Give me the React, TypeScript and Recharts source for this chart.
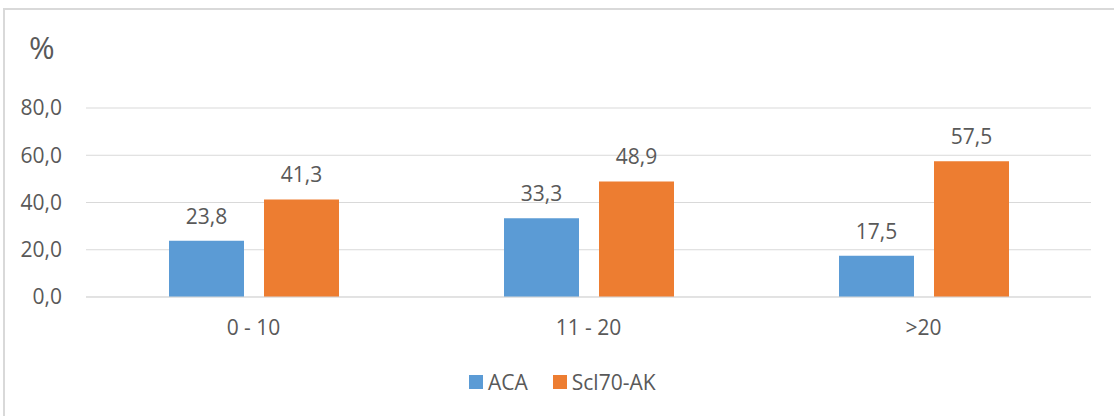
import { Bar, BarChart, CartesianGrid, LabelList, Legend, XAxis, YAxis } from 'recharts';

const categories = ['0 - 10', '11 - 20', '>20'];
const aca = [23.8, 33.3, 17.5];
const scl70 = [41.3, 48.9, 57.5];
const yTicks = [0, 20, 40, 60, 80];

const chartData = categories.map((c, i) => ({ gruppe: c, aca: aca[i], scl70: scl70[i] }));

const FONT = '"Open Sans", "Noto Sans", sans-serif';
const TEXT = '#595959';
const GRID = '#d9d9d9';
const FS = 21;

const komma = (v: number) => Number(v).toFixed(1).replace('.', ',');

const LegendBox = ({ payload }: any) => (
  <div style={{ display: 'flex', alignItems: 'center', fontFamily: FONT, fontSize: FS, color: TEXT }}>
    {(payload || []).map((p: any, i: number) => (
      <div key={p.value} style={{ display: 'flex', alignItems: 'center', marginLeft: i === 0 ? 0 : 25 }}>
        <span style={{ width: 14, height: 14, background: p.color, display: 'inline-block', marginRight: 5 }} />
        <span style={{ lineHeight: '20px' }}>{p.value}</span>
      </div>
    ))}
  </div>
);

export default function App() {
  return (
    <div style={{ position: 'absolute', left: 0, top: 0, width: 1114, height: 416, background: '#fff', fontFamily: FONT, overflow: 'hidden' }}>
      <div
        style={{
          position: 'absolute',
          left: 3,
          top: 8,
          width: 1200,
          height: 500,
          borderLeft: `2px solid ${GRID}`,
          borderTop: `2px solid ${GRID}`,
        }}
      />
      <div style={{ position: 'absolute', left: 29, top: 27, fontSize: 31, color: TEXT, lineHeight: '40px' }}>%</div>
      <BarChart
        width={1114}
        height={416}
        data={chartData}
        margin={{ top: 108, right: 23, left: 0, bottom: 89 }}
        barSize={75}
        barGap={20}
      >
        <CartesianGrid vertical={false} stroke={GRID} strokeWidth={1} />
        <XAxis
          dataKey="gruppe"
          height={30}
          axisLine={{ stroke: GRID }}
          tickLine={false}
          tickMargin={17}
          tick={{ fontSize: FS, fill: TEXT }}
        />
        <YAxis
          width={86}
          domain={[0, 80]}
          ticks={yTicks}
          axisLine={false}
          tickLine={false}
          tickMargin={18}
          tick={{ fontSize: FS, fill: TEXT }}
          tickFormatter={komma}
        />
        <Legend
          layout="horizontal"
          verticalAlign="middle"
          align="center"
          content={<LegendBox />}
          wrapperStyle={{ left: 469, top: 372, width: 400, height: 20 }}
        />
        <Bar dataKey="aca" name="ACA" fill="#5B9BD5" isAnimationActive={false}>
          <LabelList dataKey="aca" position="top" offset={17} formatter={komma} style={{ fontSize: FS, fill: TEXT }} />
        </Bar>
        <Bar dataKey="scl70" name="Scl70-AK" fill="#ED7D31" isAnimationActive={false}>
          <LabelList dataKey="scl70" position="top" offset={17} formatter={komma} style={{ fontSize: FS, fill: TEXT }} />
        </Bar>
      </BarChart>
    </div>
  );
}
